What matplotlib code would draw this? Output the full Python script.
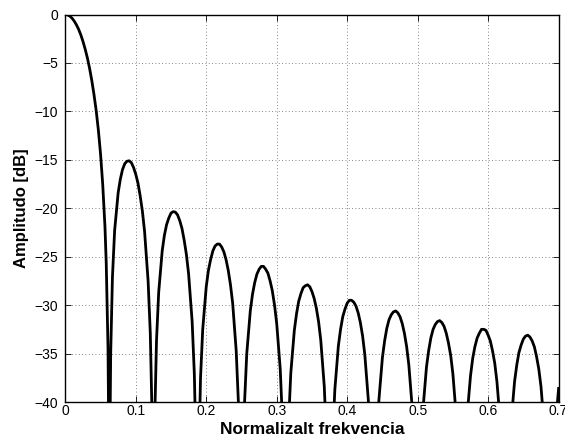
import matplotlib
matplotlib.use("Agg")
import matplotlib.pyplot as plt
import numpy as np

# ---- data (normalised frequency, amplitude in dB) ----
main_lobe_freq = [0, 0.0031, 0.0063, 0.0094, 0.0125, 0.0156, 0.0188, 0.0219, 0.025, 0.0281,
                  0.0313, 0.0344, 0.0375, 0.0406, 0.0438, 0.0469, 0.05, 0.0531, 0.0563, 0.0581,
                  0.0606, 0.0619]
main_lobe_db = [0, -0.04, -0.16, -0.37, -0.66, -1.04, -1.51, -2.08, -2.76, -3.55,
                -4.47, -5.54, -6.77, -8.21, -9.90, -11.92, -14.39, -17.54, -21.92, -25.69,
                -34.43, -45.5]

side_lobe_freq = [
    0.0631, 0.0644, 0.0669, 0.0700, 0.0750, 0.0781, 0.0812, 0.0844, 0.0875, 0.0906, 0.0938,
    0.0969, 0.1000, 0.1031, 0.1062, 0.1094, 0.1125, 0.1175, 0.1206, 0.1231,
    0.1269, 0.1294, 0.1325, 0.1375, 0.1406, 0.1437, 0.1469, 0.1500, 0.1531, 0.1562,
    0.1594, 0.1625, 0.1656, 0.1687, 0.1719, 0.1750, 0.1800, 0.1831, 0.1856,
    0.1894, 0.1919, 0.1950, 0.2000, 0.2031, 0.2062, 0.2094, 0.2125, 0.2156, 0.2188,
    0.2219, 0.2250, 0.2281, 0.2312, 0.2344, 0.2375, 0.2425, 0.2456, 0.2481,
    0.2519, 0.2544, 0.2575, 0.2625, 0.2656, 0.2687, 0.2719, 0.2750, 0.2781, 0.2812,
    0.2844, 0.2875, 0.2906, 0.2937, 0.2969, 0.3000, 0.3050, 0.3081, 0.3106,
    0.3144, 0.3169, 0.3200, 0.3250, 0.3281, 0.3312, 0.3344, 0.3375, 0.3406, 0.3438,
    0.3469, 0.3500, 0.3531, 0.3562, 0.3594, 0.3625, 0.3675, 0.3706, 0.3731,
    0.3769, 0.3794, 0.3825, 0.3875, 0.3906, 0.3937, 0.3969, 0.4000, 0.4031, 0.4062,
    0.4094, 0.4125, 0.4156, 0.4187, 0.4219, 0.4250, 0.4300, 0.4331, 0.4356,
    0.4394, 0.4419, 0.4450, 0.4500, 0.4531, 0.4562, 0.4594, 0.4625, 0.4656, 0.4688,
    0.4719, 0.4750, 0.4781, 0.4812, 0.4844, 0.4875, 0.4925, 0.4956, 0.4981,
    0.5019, 0.5044, 0.5075, 0.5125, 0.5156, 0.5187, 0.5219, 0.5250, 0.5281, 0.5312,
    0.5344, 0.5375, 0.5406, 0.5437, 0.5469, 0.5500, 0.5550, 0.5581, 0.5606,
    0.5644, 0.5669, 0.5700, 0.5750, 0.5781, 0.5812, 0.5844, 0.5875, 0.5906, 0.5938,
    0.5969, 0.6000, 0.6031, 0.6062, 0.6094, 0.6125, 0.6175, 0.6206, 0.6231,
    0.6269, 0.6294, 0.6325, 0.6375, 0.6406, 0.6437, 0.6469, 0.6500, 0.6531, 0.6562,
    0.6594, 0.6625, 0.6656, 0.6687, 0.6719, 0.6750, 0.6800, 0.6831, 0.6856,
    0.6894, 0.6919, 0.6950, 0.7000,
]
side_lobe_db = [
    -45.7, -35.0, -27.1, -22.3, -18.4, -17.0, -16.0, -15.4, -15.15, -15.1, -15.3,
    -15.8, -16.5, -17.4, -18.7, -20.3, -22.4, -27.5, -32.9, -41.4,
    -41.8, -33.7, -28.7, -24.4, -22.8, -21.7, -21.0, -20.5, -20.35, -20.4,
    -20.7, -21.3, -22.1, -23.3, -24.8, -26.8, -31.7, -37.1, -45.5,
    -45.7, -37.5, -32.5, -28.1, -26.4, -25.3, -24.4, -23.9, -23.7, -23.7,
    -24.0, -24.5, -25.3, -26.4, -27.9, -29.8, -34.7, -40.0, -48.4,
    -48.2, -40.0, -35.0, -30.6, -28.9, -27.7, -26.8, -26.3, -26.0, -26.0,
    -26.3, -26.7, -27.5, -28.5, -30.0, -31.9, -36.6, -41.9, -50.2,
    -50.2, -42.0, -37.0, -32.6, -30.9, -29.6, -28.8, -28.2, -28.0, -27.9,
    -28.1, -28.6, -29.3, -30.3, -31.7, -33.6, -38.4, -43.6, -51.9,
    -51.8, -43.7, -38.7, -34.2, -32.5, -31.2, -30.4, -29.8, -29.5, -29.5,
    -29.7, -30.1, -30.8, -31.8, -33.2, -35.1, -39.8, -45.0, -53.3,
    -52.9, -44.8, -39.8, -35.4, -33.7, -32.4, -31.5, -31.0, -30.7, -30.6,
    -30.8, -31.2, -31.9, -32.9, -34.3, -36.2, -40.8, -45.9, -54.1,
    -53.8, -45.8, -40.8, -36.4, -34.7, -33.4, -32.5, -32.0, -31.7, -31.6,
    -31.8, -32.2, -32.9, -33.9, -35.2, -37.1, -41.7, -46.7, -54.9,
    -54.6, -46.6, -41.6, -37.3, -35.5, -34.3, -33.4, -32.9, -32.5, -32.5,
    -32.6, -33.1, -33.7, -34.7, -36.0, -37.9, -42.4, -47.5, -55.5,
    -55.0, -47.1, -42.2, -37.9, -36.2, -34.9, -34.1, -33.5, -33.2, -33.1,
    -33.3, -33.7, -34.3, -35.3, -36.6, -38.4, -42.9, -47.9, -55.9,
    -55.7, -47.8, -42.9, -38.6,
]

x_ticks = [0, 0.1, 0.2, 0.3, 0.4, 0.5, 0.6, 0.7]
x_tick_labels = ["0", "0.1", "0.2", "0.3", "0.4", "0.5", "0.6", "0.7"]
y_ticks = [0, -5, -10, -15, -20, -25, -30, -35, -40]
y_tick_labels = ["0", "\u22125", "\u221210", "\u221215", "\u221220", "\u221225",
                 "\u221230", "\u221235", "\u221240"]

x_label = "Normalizalt frekvencia"
y_label = "Amplitudo [dB]"

# ---- figure ----
plt.rcParams["font.family"] = ["Liberation Sans", "DejaVu Sans"]

W, H = 565, 441
fig = plt.figure(figsize=(W / 100, H / 100), dpi=100)
ax = fig.add_axes([65.3 / W, 1 - 402 / H, 493.3 / W, 387.5 / H])

freq = np.array(main_lobe_freq + side_lobe_freq)
amp = np.array(main_lobe_db + side_lobe_db)
ax.plot(freq, amp, color="black", lw=2.0, solid_joinstyle="round")

ax.set_xlim(0, 0.7)
ax.set_ylim(-40, 0)
ax.set_xticks(x_ticks)
ax.set_xticklabels(x_tick_labels)
ax.set_yticks(y_ticks)
ax.set_yticklabels(y_tick_labels)

ax.grid(True, color="0.35", linestyle=(0, (1, 3)), linewidth=0.6)
ax.tick_params(direction="in", length=4, width=0.6, top=True, right=True,
               labelsize=10, colors="black")
ax.tick_params(axis="x", pad=1.5)
ax.tick_params(axis="y", pad=5)
for s in ax.spines.values():
    s.set_linewidth(1.0)
    s.set_color("black")

ax.set_xlabel(x_label, fontsize=12.5, fontweight="bold", labelpad=3)
ax.set_ylabel(y_label, fontsize=12, fontweight="bold", labelpad=4)

fig.savefig("out.png", dpi=100)
